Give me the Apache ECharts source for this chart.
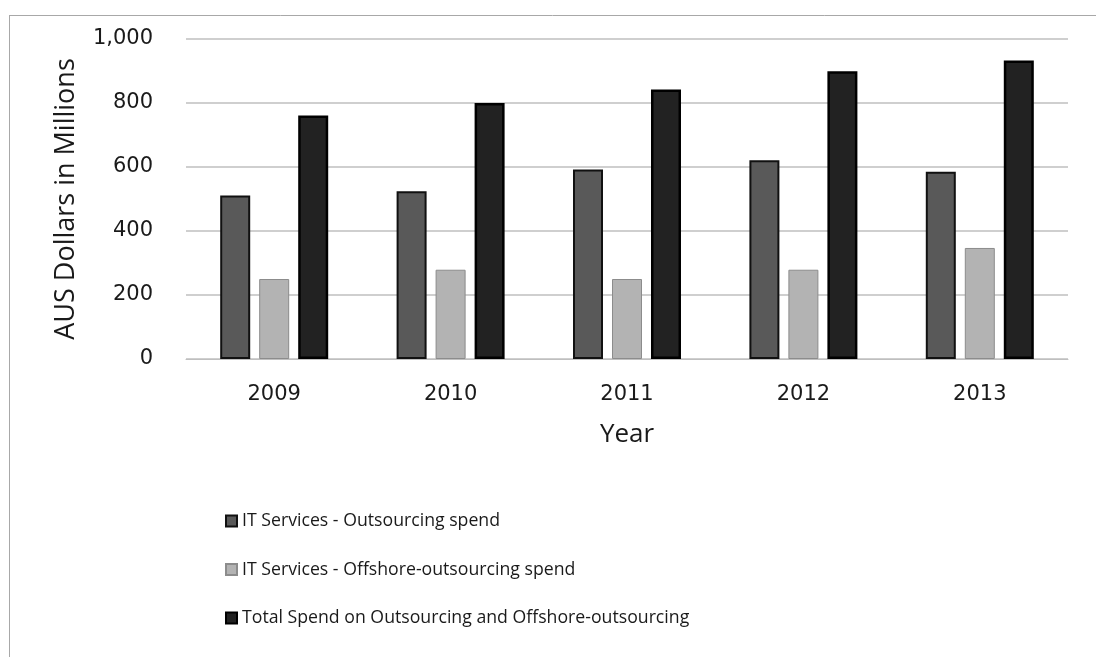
<!DOCTYPE html>
<html><head><meta charset="utf-8">
<script src="https://cdn.jsdelivr.net/npm/echarts@6/dist/echarts.min.js"></script>
<style>html,body{margin:0;padding:0;background:#fff}#c{width:1096px;height:657px}</style>
</head><body><div id="c"></div>
<script>
const categories = ['2009', '2010', '2011', '2012', '2013'];
const outsourcing = [511, 524, 592, 621, 585];
const offshore = [250, 279, 250, 279, 347];
const total = [761, 800, 842, 899, 933];
const seriesNames = ['IT Services - Outsourcing spend', 'IT Services - Offshore-outsourcing spend', 'Total Spend on Outsourcing and Offshore-outsourcing'];
const yTicks = [0, 200, 400, 600, 800, 1000];

const chart = echarts.init(document.getElementById('c'));
chart.setOption({
  animation: false,
  textStyle: { fontFamily: 'Open Sans' },
  graphic: [
    { type: 'line', shape: { x1: 9.5, y1: 15, x2: 9.5, y2: 657 }, style: { stroke: '#a8a8a8', lineWidth: 1 } },
    { type: 'line', shape: { x1: 9, y1: 15.5, x2: 1096, y2: 15.5 }, style: { stroke: '#a8a8a8', lineWidth: 1 } }
  ],
  grid: { left: 186, right: 28, top: 39, height: 320, containLabel: false },
  legend: {
    orient: 'vertical', left: 225, top: 512, padding: 0, itemWidth: 11, itemHeight: 11, itemGap: 30.5,
    icon: 'rect',
    textStyle: { fontSize: 17.7, color: '#1a1a1a', fontFamily: 'Open Sans' },
    data: seriesNames
  },
  xAxis: {
    type: 'category', data: categories,
    name: 'Year', nameLocation: 'middle', nameGap: 63,
    nameTextStyle: { fontSize: 26, color: '#1a1a1a', fontFamily: 'Open Sans' },
    axisLine: { lineStyle: { color: '#bfbfbf', width: 1 } },
    axisTick: { show: false },
    axisLabel: { fontSize: 21, color: '#1a1a1a', margin: 25, fontFamily: 'DejaVu Sans' }
  },
  yAxis: {
    type: 'value', min: 0, max: 1000, interval: 200,
    name: 'AUS Dollars in Millions', nameLocation: 'middle', nameGap: 106, nameRotate: 90,
    nameTextStyle: { fontSize: 27, color: '#1a1a1a', fontFamily: 'Open Sans' },
    axisLine: { show: false }, axisTick: { show: false },
    axisLabel: { fontSize: 21, color: '#1a1a1a', margin: 33, fontFamily: 'DejaVu Sans',
      formatter: v => v.toLocaleString('en-US') },
    splitLine: { lineStyle: { color: '#bfbfbf', width: 1.5 } }
  },
  series: [
    { name: seriesNames[0], type: 'bar', data: outsourcing, barWidth: 30, barGap: '30%',
      itemStyle: { color: '#595959', borderColor: '#111', borderWidth: 2 } },
    { name: seriesNames[1], type: 'bar', data: offshore, barWidth: 30,
      itemStyle: { color: '#b3b3b3', borderColor: '#8c8c8c', borderWidth: 1 } },
    { name: seriesNames[2], type: 'bar', data: total, barWidth: 30,
      itemStyle: { color: '#222222', borderColor: '#000', borderWidth: 2.5 } }
  ]
});
</script></body></html>
